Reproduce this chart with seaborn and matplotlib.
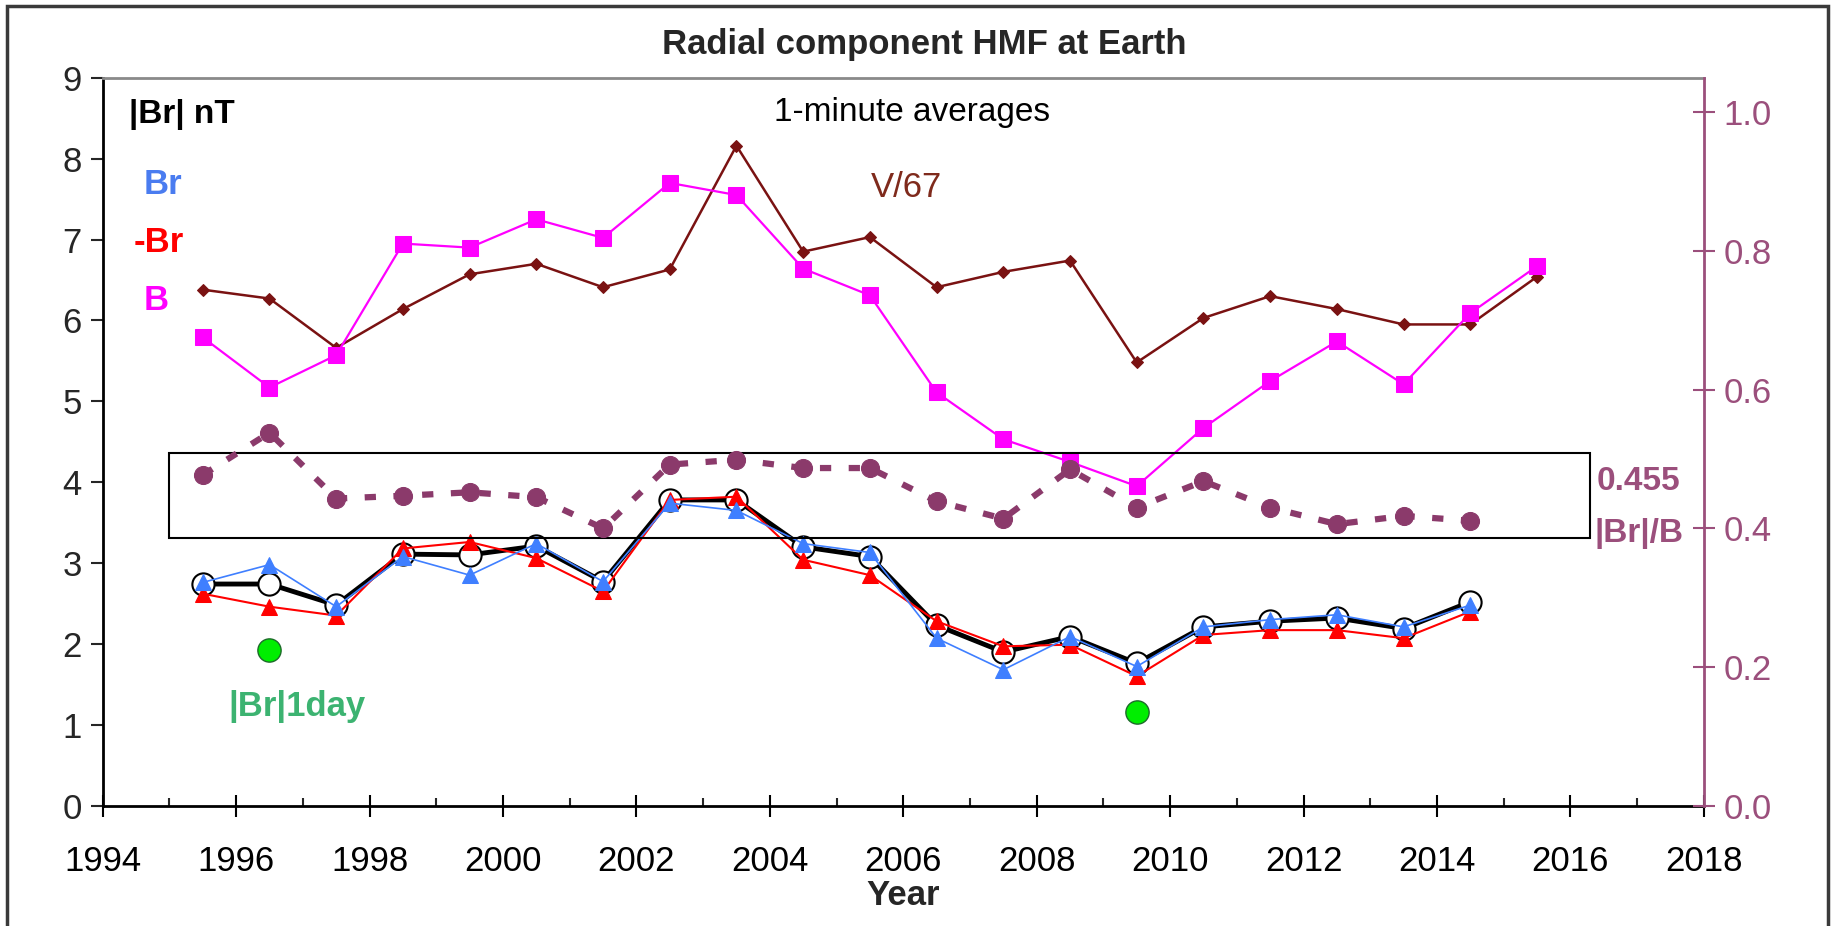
import matplotlib
matplotlib.use("Agg")
import matplotlib.pyplot as plt
import matplotlib.patches as mpatches
import matplotlib.ticker as mtick
import seaborn as sns

# yearly values, plotted at mid-year
years = [1995.5, 1996.5, 1997.5, 1998.5, 1999.5, 2000.5, 2001.5, 2002.5, 2003.5, 2004.5,
         2005.5, 2006.5, 2007.5, 2008.5, 2009.5, 2010.5, 2011.5, 2012.5, 2013.5, 2014.5, 2015.5]
years_br = years[:-1]

b_total = [5.79, 5.17, 5.57, 6.95, 6.90, 7.25, 7.02, 7.70, 7.55, 6.64,
           6.31, 5.11, 4.53, 4.25, 3.95, 4.67, 5.25, 5.74, 5.21, 6.09, 6.67]
v_over_67 = [6.38, 6.27, 5.66, 6.14, 6.57, 6.70, 6.41, 6.63, 8.16, 6.85,
             7.03, 6.41, 6.60, 6.74, 5.48, 6.03, 6.30, 6.14, 5.95, 5.95, 6.54]
abs_br = [2.74, 2.74, 2.48, 3.11, 3.10, 3.21, 2.77, 3.78, 3.78, 3.20,
          3.08, 2.23, 1.90, 2.09, 1.76, 2.21, 2.28, 2.32, 2.19, 2.52]
br_pos = [2.76, 2.98, 2.46, 3.08, 2.85, 3.24, 2.77, 3.74, 3.65, 3.24,
          3.13, 2.07, 1.68, 2.09, 1.72, 2.21, 2.30, 2.36, 2.21, 2.48]
br_neg = [2.62, 2.46, 2.35, 3.18, 3.26, 3.06, 2.65, 3.78, 3.82, 3.04,
          2.85, 2.28, 1.97, 1.99, 1.60, 2.11, 2.17, 2.17, 2.07, 2.40]
ratio = [0.477, 0.538, 0.443, 0.447, 0.452, 0.445, 0.400, 0.492, 0.499, 0.487,
         0.487, 0.439, 0.414, 0.485, 0.430, 0.468, 0.430, 0.406, 0.418, 0.411]
oneday_years = [1996.5, 2009.5]
oneday_br = [1.93, 1.16]

plum = '#8b3a6b'
axis_plum = '#9b4f7c'

sns.set_style('white')
plt.rcParams['font.family'] = ['Liberation Sans', 'DejaVu Sans']

fig, ax = plt.subplots(figsize=(18.34, 9.26), dpi=100)
fig.subplots_adjust(left=0.056, right=0.929, bottom=0.130, top=0.916)
ax2 = ax.twinx()

# left axis series
sns.lineplot(x=years, y=v_over_67, ax=ax, color='#7a1212', lw=1.8, marker='D',
             markersize=6, markeredgecolor='#7a1212', zorder=3)
sns.lineplot(x=years, y=b_total, ax=ax, color='#ff00ff', lw=1.6, marker='s',
             markersize=11, markeredgecolor='#ff00ff', zorder=3)
sns.lineplot(x=years_br, y=abs_br, ax=ax, color='black', lw=3.5, marker='o',
             markersize=16, markerfacecolor='white', markeredgecolor='black',
             markeredgewidth=1.5, zorder=4)
sns.lineplot(x=years_br, y=br_neg, ax=ax, color='#ff0000', lw=1.5, marker='^',
             markersize=11, markeredgecolor='#ff0000', zorder=5)
sns.lineplot(x=years_br, y=br_pos, ax=ax, color='#3f7fff', lw=1.2, marker='^',
             markersize=11, markeredgecolor='#3f7fff', zorder=6)
sns.scatterplot(x=oneday_years, y=oneday_br, ax=ax, color='#00ee00', s=280,
                edgecolor='#1d6b2a', linewidth=1, zorder=6)

# right axis ratio
sns.lineplot(x=years_br, y=ratio, ax=ax2, color=plum, lw=4.5, linestyle=(0, (1.8, 2.8)),
             marker='o', markersize=13, markeredgecolor=plum, zorder=3)

box = mpatches.Rectangle((1995.0, 3.31), 21.3, 1.05, fill=False, edgecolor='black',
                         lw=1.5, zorder=7)
ax.add_patch(box)

# axes limits and ticks
ax.set_xlim(1994, 2018)
ax.set_ylim(0, 9)
ax2.set_ylim(0, 1.05)
ax.xaxis.set_major_locator(mtick.MultipleLocator(2))
ax.xaxis.set_minor_locator(mtick.MultipleLocator(1))
ax.yaxis.set_major_locator(mtick.MultipleLocator(1))
ax2.yaxis.set_major_locator(mtick.MultipleLocator(0.2))
ax2.yaxis.set_major_formatter(mtick.FormatStrFormatter('%.1f'))

ax.tick_params(axis='x', which='major', direction='inout', length=16, width=1.5,
               labelsize=25, pad=20, bottom=True, colors='black')
ax.tick_params(axis='x', which='minor', direction='in', length=6, width=1.5, bottom=True)
ax.tick_params(axis='y', which='major', direction='out', length=9, width=1.5,
               labelsize=25, pad=6, left=True)
ax2.tick_params(axis='y', direction='inout', length=16, width=1.5, labelsize=25,
                pad=6, colors=axis_plum, right=True)

for side in ['left', 'bottom']:
    ax.spines[side].set_color('black')
    ax.spines[side].set_linewidth(2)
ax.spines['top'].set_color('#8a8a8a')
ax.spines['top'].set_linewidth(2)
ax.spines['right'].set_visible(False)
ax2.spines['left'].set_visible(False)
ax2.spines['bottom'].set_visible(False)
ax2.spines['top'].set_visible(False)
ax2.spines['right'].set_color(axis_plum)
ax2.spines['right'].set_linewidth(2)
ax.grid(False)
ax2.grid(False)

ax.set_xlabel('Year', fontsize=25, fontweight='bold', labelpad=1)
ax.set_ylabel('')
ax2.set_ylabel('')

# in-plot labels
ax.text(1994.39, 8.54, '|Br| nT', fontsize=24, fontweight='bold', color='black', va='center')
ax.text(1994.61, 7.68, 'Br', fontsize=25, fontweight='bold', color='#4a7cf0', va='center')
ax.text(1994.47, 6.96, '-Br', fontsize=25, fontweight='bold', color='#ff0000', va='center')
ax.text(1994.61, 6.24, 'B', fontsize=25, fontweight='bold', color='#ff00ff', va='center')
ax.text(2006.13, 8.57, '1-minute averages', fontsize=24, color='black', ha='center', va='center')
ax.text(2005.52, 7.64, 'V/67', fontsize=25, color='#7f2a1c', va='center')
ax.text(2016.39, 4.01, '0.455', fontsize=24, fontweight='bold', color=axis_plum, va='center')
ax.text(2016.36, 3.36, '|Br|/B', fontsize=24, fontweight='bold', color=axis_plum, va='center')
ax.text(1995.88, 1.23, '|Br|1day', fontsize=25, fontweight='bold', color='#3cb371', va='center')

fig.text(0.504, 0.952, 'Radial component HMF at Earth', fontsize=25, fontweight='bold',
         ha='center', va='center')

# outer chart frame
frame = mpatches.Rectangle((0.004, -0.02), 0.993, 1.0135, transform=fig.transFigure,
                           fill=False, edgecolor='#3a3a3a', lw=2.5)
fig.patches.append(frame)

fig.savefig('out.png', dpi=100)
